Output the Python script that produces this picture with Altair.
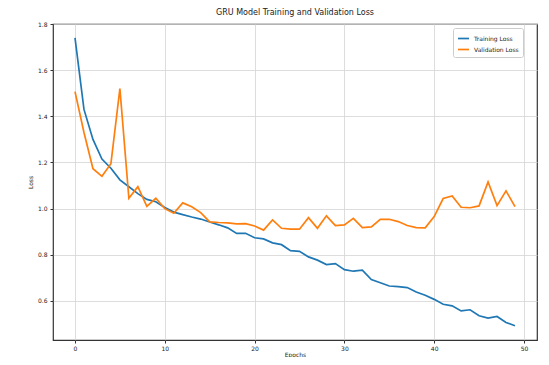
import altair as alt
import pandas as pd

epochs = list(range(50))
train_loss = [1.74, 1.43, 1.30, 1.215, 1.175, 1.125, 1.095, 1.065, 1.04, 1.03,
              1.005, 0.985, 0.974, 0.964, 0.955, 0.942, 0.93, 0.917, 0.893, 0.893,
              0.874, 0.869, 0.852, 0.844, 0.818, 0.815, 0.791, 0.777, 0.758, 0.762,
              0.736, 0.729, 0.734, 0.693, 0.679, 0.665, 0.662, 0.658, 0.639, 0.625,
              0.607, 0.586, 0.579, 0.557, 0.562, 0.536, 0.526, 0.533, 0.507, 0.493]
val_loss = [1.507, 1.33, 1.173, 1.14, 1.195, 1.52, 1.045, 1.095, 1.01, 1.045,
            1.00, 0.98, 1.025, 1.008, 0.983, 0.943, 0.94, 0.938, 0.934, 0.935,
            0.925, 0.907, 0.951, 0.915, 0.911, 0.911, 0.961, 0.915, 0.969, 0.927,
            0.930, 0.958, 0.918, 0.921, 0.954, 0.954, 0.944, 0.927, 0.918, 0.917,
            0.966, 1.044, 1.055, 1.006, 1.004, 1.012, 1.116, 1.013, 1.077, 1.009]
series_names = ["Training Loss", "Validation Loss"]
series_colors = ["#1f77b4", "#ff7f0e"]
x_ticks = [0, 10, 20, 30, 40, 50]
y_ticks = [0.6, 0.8, 1.0, 1.2, 1.4, 1.6, 1.8]

df = pd.concat([
    pd.DataFrame({"Epoch": epochs, "Loss": train_loss, "Series": series_names[0]}),
    pd.DataFrame({"Epoch": epochs, "Loss": val_loss, "Series": series_names[1]}),
])

chart = alt.Chart(df).mark_line(strokeWidth=1.7).encode(
    x=alt.X("Epoch:Q",
            scale=alt.Scale(domain=[-2.45, 51.45], nice=False, zero=False),
            axis=alt.Axis(values=x_ticks, title="Epochs", format="d",
                          labelPadding=2, titlePadding=0)),
    y=alt.Y("Loss:Q",
            scale=alt.Scale(domain=[0.431, 1.80], nice=False, zero=False),
            axis=alt.Axis(values=y_ticks, title="Loss", format=".1f",
                          labelPadding=3, titlePadding=4)),
    color=alt.Color("Series:N",
                    scale=alt.Scale(domain=series_names, range=series_colors),
                    legend=alt.Legend(title=None, orient="none", legendX=400, legendY=4,
                                      symbolType="stroke", symbolStrokeWidth=1.7,
                                      symbolSize=120, labelFontSize=6,
                                      fillColor="white", strokeColor="#cccccc",
                                      padding=4, cornerRadius=2, rowPadding=1)),
    order=alt.Order("Epoch:Q"),
).properties(
    width=484,
    height=316,
    title=alt.TitleParams("GRU Model Training and Validation Loss", fontSize=8,
                          fontWeight="normal", offset=4, color="#222222",
                          font="DejaVu Sans"),
    autosize=alt.AutoSizeParams(type="none"),
    padding={"left": 45, "top": 16, "right": 4, "bottom": 17},
).configure_view(
    stroke="#333333", strokeWidth=1.2
).configure_axis(
    grid=True, gridColor="#d4d4d4", gridWidth=0.8,
    domain=False, tickColor="#333333", tickSize=3,
    labelFontSize=6, titleFontSize=6, labelColor="#222222", titleColor="#222222",
    labelFont="DejaVu Sans", titleFont="DejaVu Sans", titleFontWeight="normal",
).configure_legend(
    labelFont="DejaVu Sans", labelColor="#222222"
)

chart.save("out.html", embed_options={"renderer": "svg", "actions": False})
